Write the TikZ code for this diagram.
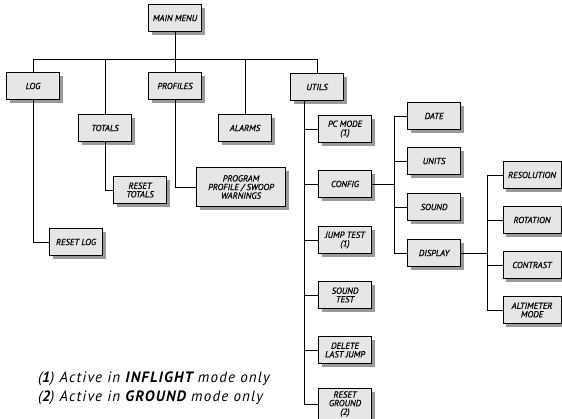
\documentclass[tikz,border=0pt]{standalone}
\usepackage{fontspec}
\setmainfont{PT Sans}
\newfontfamily\boxfont[FakeBold=0.6]{PT Sans}
\newfontfamily\notefont[LetterSpace=8]{PT Sans}
\usetikzlibrary{shadows}
\definecolor{boxgray}{HTML}{E6E6E6}
\definecolor{shadowgray}{HTML}{9A9A9A}
\tikzset{
    menubox/.style={draw, line width=0.9pt, fill=boxgray, minimum width=53pt, minimum height=27pt,
        inner sep=1pt, align=center, font=\boxfont\fontsize{8.8}{8.6}\selectfont\itshape,
        drop shadow={shadow xshift=3pt, shadow yshift=-3pt, fill=shadowgray, opacity=1}},
    link/.style={line width=0.7pt}
}
\begin{document}
\begin{tikzpicture}[x=1pt,y=-1pt]
            \useasboundingbox (0,0) rectangle (562,418);
            \node[menubox] (main) at (175,18) {MAIN MENU};
            \node[menubox] (log) at (33,86) {LOG};
            \node[menubox] (totals) at (105,128) {TOTALS};
            \node[menubox] (profiles) at (175,86) {PROFILES};
            \node[menubox] (alarms) at (245,128) {ALARMS};
            \node[menubox] (utils) at (317,87) {UTILS};
            \node[menubox] (resettotals) at (140,190) {RESET\\TOTALS};
            \node[menubox, minimum width=89pt, minimum height=39pt] (program) at (241,187) {PROGRAM\\PROFILE / SWOOP\\WARNINGS};
            \node[menubox] (resetlog) at (76,242) {RESET LOG};
            \node[menubox] (pcmode) at (345,129) {PC MODE\\(1)};
            \node[menubox] (config) at (345,184) {CONFIG};
            \node[menubox] (jumptest) at (345,240) {JUMP TEST\\(1)};
            \node[menubox] (soundtest) at (345,295) {SOUND\\TEST};
            \node[menubox] (deletejump) at (345,350) {DELETE\\LAST JUMP};
            \node[menubox, minimum height=31pt] (resetground) at (345,404) {RESET\\GROUND\\(2)};
            \node[menubox] (date) at (434,116) {DATE};
            \node[menubox] (units) at (434,161) {UNITS};
            \node[menubox] (sound) at (434,207) {SOUND};
            \node[menubox] (display) at (434,253) {DISPLAY};
            \node[menubox, minimum width=58pt] (resolution) at (532,175) {RESOLUTION};
            \node[menubox, minimum width=58pt] (rotation) at (532,220) {ROTATION};
            \node[menubox, minimum width=58pt] (contrast) at (532,265) {CONTRAST};
            \node[menubox, minimum width=58pt] (altimeter) at (532,310) {ALTIMETER\\MODE};
            \coordinate (bus) at (175,59);
            \coordinate (ut) at (304,101);
            \coordinate (cfg) at (394,184);
            \coordinate (dsp) at (487,253);
            \draw[link] (main) -- (profiles);
            \foreach \n in {log,totals,alarms,utils}
                \draw[link] (\n.north) |- (bus);
            \draw[link] (log.south) |- (resetlog.west);
            \draw[link] (totals.south) |- (resettotals.west);
            \draw[link] (profiles.south) |- (program.west);
            \foreach \n in {pcmode,config,jumptest,soundtest,deletejump,resetground}
                \draw[link] (ut) |- (\n.west);
            \draw[link] (config) -- (cfg);
            \foreach \n in {date,units,sound,display}
                \draw[link] (cfg) |- (\n.west);
            \draw[link] (display) -- (dsp);
            \foreach \n in {resolution,rotation,contrast,altimeter}
                \draw[link] (dsp) |- (\n.west);
            \node[anchor=west, align=left, inner sep=0pt, font=\notefont\fontsize{15}{19}\selectfont\itshape] (notes) at (38,388)
                {(\textbf{1}) Active in \textbf{INFLIGHT} mode only\\(\textbf{2}) Active in \textbf{GROUND} mode only};
        \end{tikzpicture}
\end{document}
